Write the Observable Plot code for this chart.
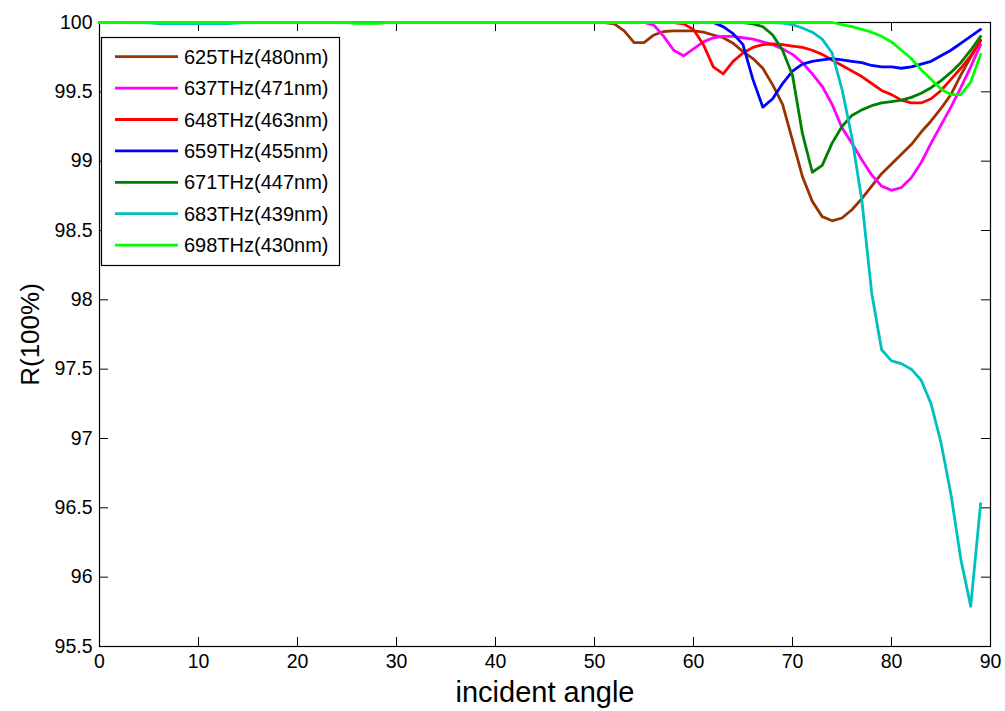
<!DOCTYPE html>
<html>
<head>
<meta charset="utf-8">
<script src="https://cdn.jsdelivr.net/npm/d3@7"></script>
<script src="https://cdn.jsdelivr.net/npm/@observablehq/plot@0.6"></script>
<style>
  body { margin: 0; background: #fff; }
  #wrap { position: relative; width: 1005px; height: 711px; font-family: "Liberation Sans", Arial, sans-serif; }
  #legend { position: absolute; left: 0; top: 0; pointer-events: none; }
</style>
</head>
<body>
<div id="wrap"></div>
<script>
// ---------------- data ----------------
const angles = [0,1,2,3,4,5,6,7,8,9,10,11,12,13,14,15,16,17,18,19,20,21,22,23,24,25,26,27,28,29,
  30,31,32,33,34,35,36,37,38,39,40,41,42,43,44,45,46,47,48,49,50,51,52,53,54,55,56,57,58,59,
  60,61,62,63,64,65,66,67,68,69,70,71,72,73,74,75,76,77,78,79,80,81,82,83,84,85,86,87,88,89];

const seriesNames = ["625THz(480nm)","637THz(471nm)","648THz(463nm)","659THz(455nm)","671THz(447nm)","683THz(439nm)","698THz(430nm)"];
const seriesColors = ["#993300","#ff00ff","#ff0000","#0000ff","#008000","#00bfbf","#00ff00"];

const r625 = [100,100,100,100,100,100,100,100,100,100,100,100,100,100,100,100,100,100,100,100,
  100,100,100,100,100,100,100,100,100,100,100,100,100,100,100,100,100,100,100,100,
  100,100,100,100,100,100,100,100,100,100,100,100,
  99.99,99.94,99.855,99.855,99.91,99.935,99.94,99.94,99.94,99.93,99.91,99.89,99.85,99.79,99.74,99.67,99.55,99.41,
  99.15,98.89,98.71,98.6,98.57,98.59,98.65,98.73,98.82,98.91,98.98,99.05,99.12,99.21,99.29,99.38,99.48,99.62,99.75,99.87];

const r637 = [100,100,100,100,100,100,100,100,100,100,100,100,100,100,100,100,100,100,100,100,
  100,100,100,100,100,100,100,100,100,100,100,100,100,100,100,100,100,100,100,100,
  100,100,100,100,100,100,100,100,100,100,100,100,100,100,100,100,
  99.98,99.9,99.8,99.76,99.81,99.86,99.89,99.9,99.9,99.89,99.88,99.86,99.84,99.81,99.77,99.71,99.63,99.54,99.41,
  99.24,99.13,99.01,98.9,98.82,98.79,98.81,98.88,98.99,99.13,99.26,99.39,99.53,99.68,99.84];

const r648 = [100,100,100,100,100,100,100,100,100,100,100,100,100,100,100,100,100,100,100,100,
  100,100,100,100,100,100,100,100,100,100,100,100,100,100,100,100,100,100,100,100,
  100,100,100,100,100,100,100,100,100,100,100,100,100,100,100,100,100,100,100,
  99.99,99.95,99.84,99.68,99.63,99.72,99.78,99.82,99.84,99.845,99.84,99.83,99.82,99.8,99.77,99.73,
  99.69,99.65,99.61,99.56,99.51,99.48,99.44,99.42,99.42,99.45,99.51,99.59,99.67,99.76,99.87];

const r659 = [100,100,100,100,100,100,100,100,100,100,100,100,100,100,100,100,100,100,100,100,
  100,100,100,100,100,100,100,100,100,100,100,100,100,100,100,100,100,100,100,100,
  100,100,100,100,100,100,100,100,100,100,100,100,100,100,100,100,100,100,100,100,100,100,100,
  99.97,99.92,99.84,99.59,99.39,99.45,99.56,99.65,99.7,99.72,99.73,99.74,99.73,99.72,99.71,99.69,
  99.68,99.68,99.67,99.68,99.7,99.72,99.76,99.8,99.85,99.9,99.95];

const r671 = [100,100,100,100,100,100,100,100,100,100,100,100,100,100,100,100,100,100,100,100,
  100,100,100,100,100,100,100,100,100,100,100,100,100,100,100,100,100,100,100,100,
  100,100,100,100,100,100,100,100,100,100,100,100,100,100,100,100,100,100,100,100,100,100,100,100,100,100,
  99.99,99.97,99.91,99.8,99.62,99.2,98.92,98.97,99.13,99.25,99.33,99.37,99.4,99.42,99.43,99.44,
  99.46,99.49,99.53,99.58,99.64,99.71,99.8,99.9];

const r683 = [100,100,100,100,100,99.997,99.992,99.992,99.992,99.992,99.992,99.992,99.992,99.992,99.997,100,100,100,100,100,
  100,100,100,100,100,100,100,100,100,100,100,100,100,100,100,100,100,100,100,100,
  100,100,100,100,100,100,100,100,100,100,100,100,100,100,100,100,100,100,100,100,
  100,100,100,100,100,100,100,100,100,
  99.995,99.985,99.96,99.93,99.88,99.78,99.52,99.17,98.72,98.05,97.64,97.56,97.54,97.5,97.42,97.25,
  96.97,96.6,96.13,95.79,96.53];

const r698 = [100,100,100,100,100,100,100,100,100,100,100,100,100,100,100,100,100,100,100,100,
  100,100,100,100,100,100,99.993,99.993,99.993,100,100,100,100,100,100,100,100,100,100,100,
  100,100,100,100,100,100,100,100,100,100,100,100,100,100,100,100,100,100,100,100,
  100,100,100,100,100,100,100,100,100,100,100,100,100,100,100,
  99.985,99.97,99.95,99.93,99.9,99.86,99.8,99.74,99.66,99.59,99.52,99.48,99.48,99.57,99.77];

const xTicks = [0,10,20,30,40,50,60,70,80,90];
const yTicks = [95.5,96,96.5,97,97.5,98,98.5,99,99.5,100];
const xLabel = "incident angle";
const yLabel = "R(100%)";

// ---------------- build ----------------
const allSeries = [r625, r637, r648, r659, r671, r683, r698];
const rows = [];
allSeries.forEach((vals, si) => {
  angles.forEach((a, i) => rows.push({series: seriesNames[si], angle: a, value: vals[i]}));
});

const W = 1005, H = 711, mL = 99, mR = 15, mT = 22, mB = 65;
const innerW = W - mL - mR, innerH = H - mT - mB;
const tickLen = 9;
const font = "'Liberation Sans', Arial, sans-serif";

const chart = Plot.plot({
  width: W, height: H,
  marginLeft: mL, marginRight: mR, marginTop: mT, marginBottom: mB,
  style: {fontFamily: font, fontSize: "19px", background: "#fff", color: "#000", overflow: "visible"},
  x: {domain: [0, 90]},
  y: {domain: [95.5, 100]},
  color: {domain: seriesNames, range: seriesColors},
  marks: [
    Plot.axisX(xTicks, {anchor: "bottom", tickSize: 0, tickPadding: 8, label: null, fontSize: 19.5}),
    Plot.axisY(yTicks, {anchor: "left", tickSize: 0, tickPadding: 7, label: null, fontSize: 19.5, tickFormat: d => String(d)}),
    Plot.tickX(xTicks, {x: d => d, insetTop: innerH - tickLen, stroke: "#000"}),
    Plot.tickX(xTicks, {x: d => d, insetBottom: innerH - tickLen, stroke: "#000"}),
    Plot.tickY(yTicks, {y: d => d, insetRight: innerW - tickLen, stroke: "#000"}),
    Plot.tickY(yTicks, {y: d => d, insetLeft: innerW - tickLen, stroke: "#000"}),
    Plot.frame({stroke: "#000", strokeWidth: 1.2}),
    Plot.line(rows, {x: "angle", y: "value", z: "series", stroke: "series", strokeWidth: 2.8}),
    Plot.text([xLabel], {frameAnchor: "bottom", lineAnchor: "middle", textAnchor: "middle", dy: 46, fontSize: 29, fill: "#000"}),
    Plot.text([yLabel], {frameAnchor: "left", lineAnchor: "middle", textAnchor: "middle", dx: -69, rotate: -90, fontSize: 26, fill: "#000"})
  ]
});
document.getElementById("wrap").appendChild(chart);

// ---------------- legend ----------------
const lg = d3.select("#wrap").append("svg")
  .attr("id", "legend").attr("width", W).attr("height", H);
const box = {x: 101.5, y: 37.5, w: 238, h: 228};
lg.append("rect").attr("x", box.x).attr("y", box.y).attr("width", box.w).attr("height", box.h)
  .attr("fill", "#fff").attr("stroke", "#000").attr("stroke-width", 1.2);
seriesNames.forEach((name, i) => {
  const cy = box.y + 19.2 + i * 31.4;
  lg.append("line").attr("x1", box.x + 13.5).attr("x2", box.x + 76.5)
    .attr("y1", cy).attr("y2", cy).attr("stroke", seriesColors[i]).attr("stroke-width", 2.8);
  lg.append("text").attr("x", box.x + 82.5).attr("y", cy).attr("dy", "0.35em")
    .attr("font-family", font).attr("font-size", 20).attr("fill", "#000").text(name);
});
</script>
</body>
</html>
